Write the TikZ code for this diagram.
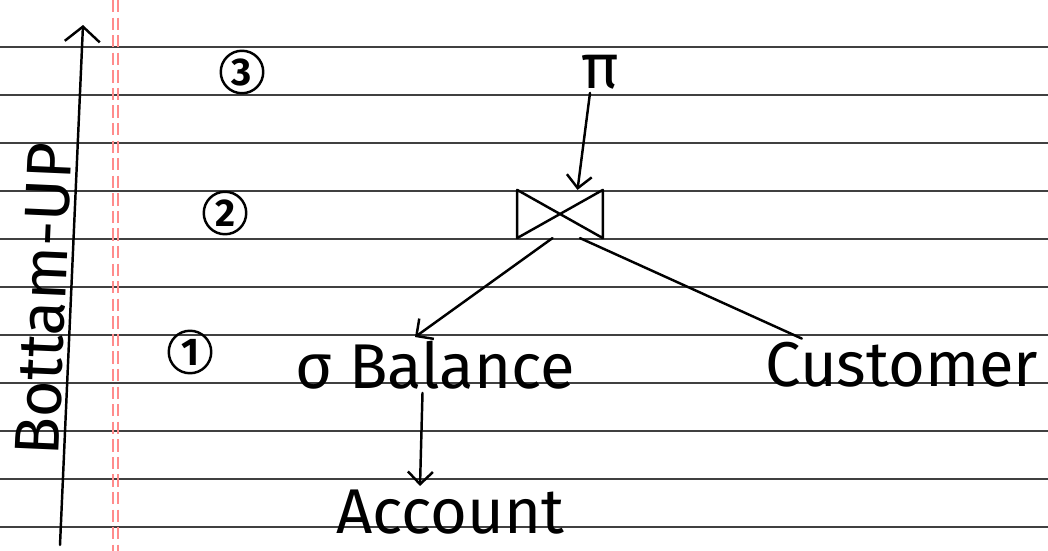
\documentclass[tikz,border=0pt]{standalone}
\usepackage{fontspec}
\setmainfont{Fira Sans}
\usetikzlibrary{arrows.meta}

\begin{document}
\begin{tikzpicture}[
    x=0.02cm, y=-0.02cm,
    ruled/.style={draw=black!75, line width=1.3pt},
    margin/.style={draw=red!45, line width=0.9pt, dash pattern=on 7pt off 3pt},
    ink/.style={draw=black, line width=1.4pt, line cap=round, line join=round},
    arrow/.style={ink, -{Straight Barb[length=2.5mm, width=5mm]}},
    rel/.style={font=\fontsize{36}{40}\selectfont, inner sep=2pt},
    lvl/.style={circle, draw=black, line width=1.4pt, minimum size=0.85cm, inner sep=0pt, font=\fontsize{22}{26}\selectfont\bfseries},
    joinbox/.style={minimum width=1.7cm, minimum height=0.95cm, inner sep=0pt}
]
    \useasboundingbox[fill=white] (0,0) rectangle (1048,551);

    % paper
    \foreach \k in {0,...,10}
        \draw[ruled] (0,{47+48*\k}) -- (1048,{47+48*\k});
    \draw[margin] (113,0) -- (113,551);
    \draw[margin] (118,0) -- (118,551);

    % direction of evaluation
    \coordinate (axbot) at (60,545);
    \coordinate (axtop) at (83,25);
    \draw[ink, -{Straight Barb[length=3mm, width=7mm]}] (axbot) -- (axtop)
        node[pos=0.47, sloped, above, inner sep=1pt, rel] (dir) {Bottam-UP};

    % levels
    \node[lvl] (three) at (242,72) {3};
    \node[lvl] (two) at (225,213) {2};
    \node[lvl] (one) at (190,352) {1};

    % query tree
    \node[rel] (proj) at (600,72) {π};
    \node[joinbox] (jn) at (560,214) {};
    \draw[ink] (jn.north west) -- (jn.south east) -- (jn.north east) -- (jn.south west) -- cycle;
    \node[rel] (sel) at (435,365) {σ Balance};
    \node[rel] (cust) at (902,365) {Customer};
    \node[rel] (acct) at (450,512) {Account};

    \draw[arrow] ([xshift=-0.2cm]proj.south) -- ([xshift=0.35cm]jn.north);
    \draw[arrow] ([xshift=-0.15cm]jn.south) -- ([xshift=-0.4cm]sel.north);
    \draw[ink] ([xshift=0.4cm]jn.south) -- ([xshift=0.8cm]cust.north west);
    \draw[arrow] ([xshift=-0.25cm]sel.south) -- ([xshift=-0.6cm]acct.north);
\end{tikzpicture}
\end{document}
